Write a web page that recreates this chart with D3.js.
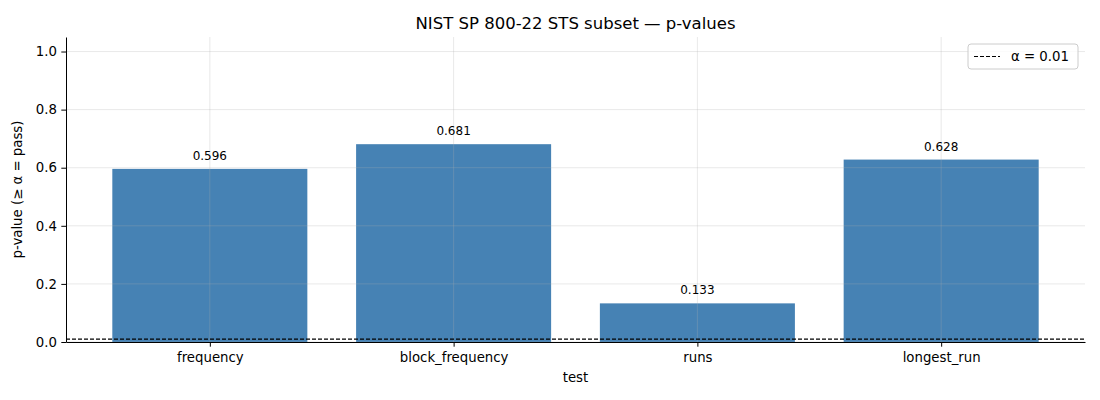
<!DOCTYPE html>
<html>
<head>
<meta charset="utf-8">
<script src="https://cdn.jsdelivr.net/npm/d3@7"></script>
<style>
  body { margin: 0; background: #fff; }
  svg { font-family: "DejaVu Sans", sans-serif; }
</style>
</head>
<body>
<svg width="1100" height="400"></svg>
<script>
// data
const tests = ['frequency', 'block_frequency', 'runs', 'longest_run'];
const pValues = [0.596, 0.681, 0.133, 0.628];
const alpha = 0.01;
const yTicks = [0.0, 0.2, 0.4, 0.6, 0.8, 1.0];

const margin = { top: 37, right: 15, bottom: 58, left: 66 };
const width = 1100 - margin.left - margin.right;
const height = 400 - margin.top - margin.bottom;

const svg = d3.select('svg');
const g = svg.append('g')
    .attr('transform', `translate(${margin.left}, ${margin.top})`);

// x (index scale, matplotlib-like margins)
const barW = 0.8;
const pad = (tests.length - 1 + barW) * 0.05;
const x = d3.scaleLinear()
    .domain([-barW / 2 - pad, tests.length - 1 + barW / 2 + pad])
    .range([0, width]);

// y
const y = d3.scaleLinear()
    .domain([0, 1.05])
    .range([height, 0]);

// bars
g.selectAll('rect.bar')
    .data(pValues)
    .enter().append('rect')
    .attr('class', 'bar')
    .attr('x', (d, i) => x(i - barW / 2))
    .attr('width', x(barW) - x(0))
    .attr('y', d => y(d))
    .attr('height', d => y(0) - y(d))
    .attr('fill', '#4682b4');

// grid (above bars)
const grid = g.append('g').attr('stroke', '#b0b0b0').attr('stroke-opacity', 0.35).attr('stroke-width', 0.8);
grid.selectAll('line.gy')
    .data(yTicks)
    .enter().append('line')
    .attr('x1', 0).attr('x2', width)
    .attr('y1', d => y(d)).attr('y2', d => y(d));
grid.selectAll('line.gx')
    .data(tests)
    .enter().append('line')
    .attr('y1', 0).attr('y2', height)
    .attr('x1', (d, i) => x(i)).attr('x2', (d, i) => x(i));

// value labels
g.selectAll('text.val')
    .data(pValues)
    .enter().append('text')
    .attr('x', (d, i) => x(i))
    .attr('y', d => y(d) - 9)
    .attr('text-anchor', 'middle')
    .attr('font-size', '12px')
    .text(d => d.toFixed(3));

// alpha line
g.append('line')
    .attr('x1', 0).attr('x2', width)
    .attr('y1', y(alpha)).attr('y2', y(alpha))
    .attr('stroke', 'black')
    .attr('stroke-width', 1.2)
    .attr('stroke-dasharray', '4,2');

// axes
const xAxis = d3.axisBottom(x)
    .tickValues(d3.range(tests.length))
    .tickFormat(i => tests[i])
    .tickSize(4.7).tickSizeOuter(0);
const yAxis = d3.axisLeft(y)
    .tickValues(yTicks)
    .tickFormat(d3.format('.1f'))
    .tickSize(4.7).tickSizeOuter(0);

const gx = g.append('g')
    .attr('transform', `translate(0, ${height})`)
    .call(xAxis);
const gy = g.append('g').call(yAxis);

[gx, gy].forEach(a => {
    a.selectAll('text').attr('font-size', '13.3px').attr('fill', 'black').attr('font-family', '"DejaVu Sans", sans-serif');
    a.selectAll('line, path').attr('stroke', 'black').attr('stroke-width', 1);
});
gx.selectAll('text').attr('dy', '0.95em');
gy.selectAll('text').attr('dx', '-0.1em');

// axis labels
g.append('text')
    .attr('x', width / 2)
    .attr('y', height + 40)
    .attr('text-anchor', 'middle')
    .attr('font-size', '13.3px')
    .text('test');
g.append('text')
    .attr('transform', `translate(${-44}, ${height / 2}) rotate(-90)`)
    .attr('text-anchor', 'middle')
    .attr('font-size', '13.3px')
    .text('p-value (≥ α = pass)');

// title
svg.append('text')
    .attr('x', margin.left + width / 2)
    .attr('y', 29)
    .attr('text-anchor', 'middle')
    .attr('font-size', '16.5px')
    .text('NIST SP 800-22 STS subset — p-values');

// legend
const lg = g.append('g').attr('transform', `translate(${width - 117}, 7)`);
lg.append('rect')
    .attr('width', 110).attr('height', 25)
    .attr('rx', 3)
    .attr('fill', 'white').attr('fill-opacity', 0.8)
    .attr('stroke', '#cccccc');
lg.append('line')
    .attr('x1', 6).attr('x2', 32)
    .attr('y1', 12.5).attr('y2', 12.5)
    .attr('stroke', 'black').attr('stroke-width', 1.2)
    .attr('stroke-dasharray', '4,2');
lg.append('text')
    .attr('x', 43).attr('y', 17)
    .attr('font-size', '13.3px')
    .text(`α = ${alpha}`);
</script>
</body>
</html>
